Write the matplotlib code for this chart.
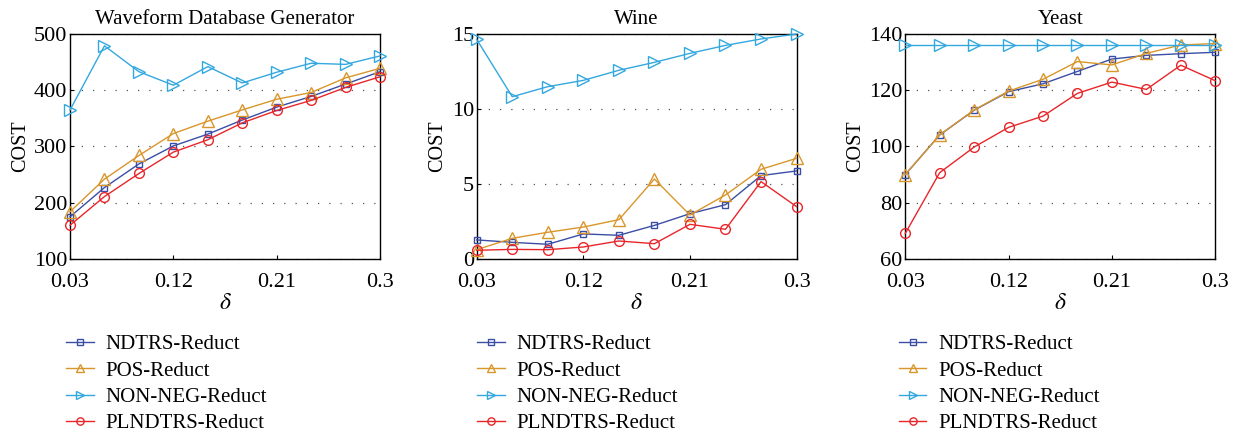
import numpy as np
import matplotlib
matplotlib.use('Agg')
from matplotlib import pyplot as plt

plt.rcParams['font.family'] = ['Liberation Serif', 'DejaVu Serif']
plt.rcParams['mathtext.fontset'] = 'stix'

delta = [0.03, 0.06, 0.09, 0.12, 0.15, 0.18, 0.21, 0.24, 0.27, 0.30]
xticks = [0.03, 0.12, 0.21, 0.3]
xticklabels = ['0.03', '0.12', '0.21', '0.3']

titles = ['Waveform Database Generator', 'Wine', 'Yeast']
names = ['NDTRS-Reduct', 'POS-Reduct', 'NON-NEG-Reduct', 'PLNDTRS-Reduct']

# Waveform
wave_ndtrs = [175, 227, 269, 301, 322, 347, 370, 389, 411, 433]
wave_pos = [184, 242, 284, 323, 345, 365, 384, 396, 422, 439]
wave_nonneg = [365, 479, 433, 409, 442, 413, 432, 448, 446, 461]
wave_plndtrs = [160, 211, 252, 290, 312, 342, 364, 382, 405, 424]

# Wine
wine_ndtrs = [1.27, 1.11, 0.98, 1.67, 1.58, 2.24, 3.02, 3.62, 5.56, 5.87]
wine_pos = [0.62, 1.38, 1.78, 2.13, 2.62, 5.33, 2.93, 4.27, 5.98, 6.71]
wine_nonneg = [14.64, 10.82, 11.49, 11.91, 12.58, 13.11, 13.71, 14.24, 14.67, 15.0]
wine_plndtrs = [0.58, 0.64, 0.62, 0.80, 1.20, 1.02, 2.31, 1.98, 5.16, 3.49]

# Yeast
yeast_ndtrs = [90.0, 104.1, 112.9, 119.5, 122.3, 126.7, 131.1, 132.4, 133.0, 133.5]
yeast_pos = [90.0, 104.1, 113.0, 119.7, 123.9, 130.2, 129.0, 133.1, 136.1, 136.6]
yeast_nonneg = [136.0, 136.0, 136.0, 136.0, 136.0, 136.0, 136.0, 136.0, 136.0, 136.0]
yeast_plndtrs = [69.1, 90.7, 99.8, 106.8, 110.8, 118.9, 122.9, 120.3, 128.9, 123.4]

data = [
    [wave_ndtrs, wave_pos, wave_nonneg, wave_plndtrs],
    [wine_ndtrs, wine_pos, wine_nonneg, wine_plndtrs],
    [yeast_ndtrs, yeast_pos, yeast_nonneg, yeast_plndtrs],
]
ylims = [(100, 500), (0, 15), (60, 140)]
yticks = [[100, 200, 300, 400, 500], [0, 5, 10, 15], [60, 80, 100, 120, 140]]

colors = ['#3a4ea6', '#d9962b', '#33a8df', '#e8262a']
markers = ['s', '^', '>', 'o']
msizes = [5, 8, 8, 7]

positions = [
    [0.0567, 0.406, 0.251, 0.516],
    [0.386, 0.406, 0.259, 0.516],
    [0.733, 0.406, 0.251, 0.516],
]
legend_x = [0.0466, 0.3794, 0.721]

fig = plt.figure(figsize=(12.35, 4.36), dpi=100)
for i in range(3):
    ax = fig.add_axes(positions[i])
    for j in range(4):
        ax.plot(delta, data[i][j], color=colors[j], marker=markers[j],
                markersize=msizes[j], markerfacecolor='none',
                markeredgewidth=1.0, linewidth=1.0, label=names[j],
                clip_on=False, zorder=3)
    ax.set_xlim(0.03, 0.3)
    ax.set_ylim(*ylims[i])
    ax.set_xticks(xticks)
    ax.set_xticklabels(xticklabels)
    ax.set_yticks(yticks[i])
    ax.tick_params(direction='in', length=3, labelsize=16, width=0.8)
    ax.tick_params(axis='x', pad=10)
    ax.tick_params(axis='y', pad=2)
    ax.yaxis.grid(True, linestyle=(0, (1, 8)), color='#555555', linewidth=0.9)
    for s in ax.spines.values():
        s.set_linewidth(1.0)
    ax.set_title(titles[i], fontsize=15, pad=7)
    ax.set_ylabel('COST', fontsize=14.5, labelpad=3)
    ax.set_xlabel(r'$\delta$', fontsize=17, labelpad=1)
    leg = ax.legend(loc='upper left', bbox_to_anchor=(legend_x[i], 0.252),
                    bbox_transform=fig.transFigure, frameon=False, fontsize=15,
                    handlelength=1.33, labelspacing=0.33, handletextpad=0.57,
                    borderaxespad=0, markerscale=0.75)

fig.savefig('out.png', dpi=100)
